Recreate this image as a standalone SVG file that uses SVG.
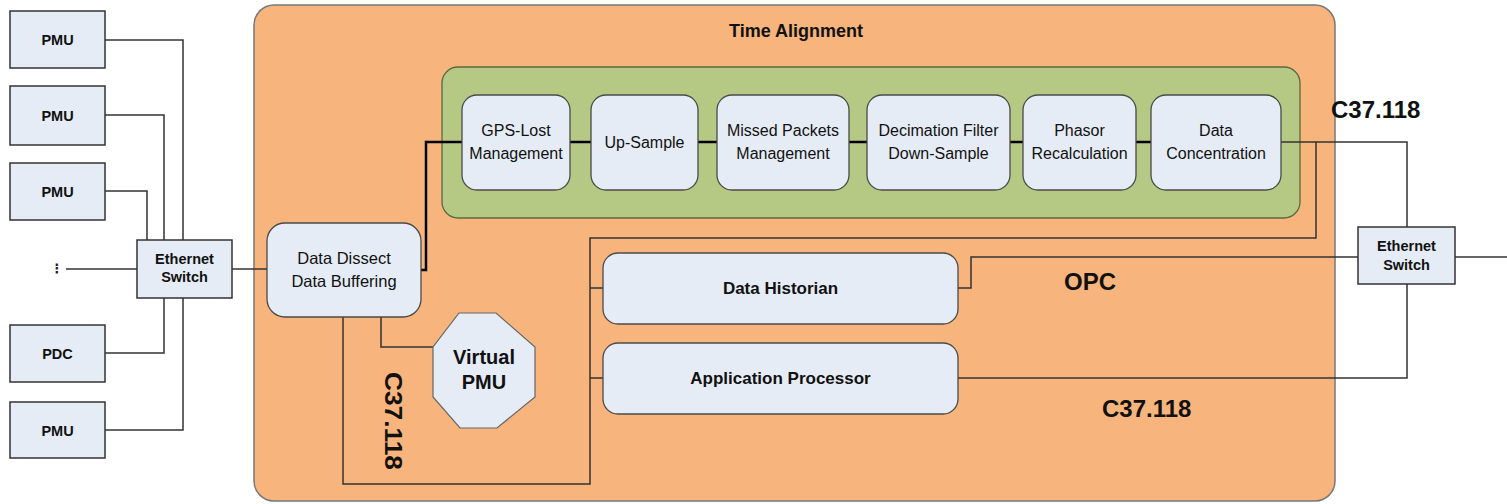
<svg xmlns="http://www.w3.org/2000/svg" width="1507" height="504" viewBox="0 0 1507 504">
  <style>
    .dev { fill: #E6ECF6; stroke: #333333; stroke-width: 1.5; }
    .rbox { fill: #E6ECF6; stroke: #4a4a4a; stroke-width: 1.3; }
    .lbl { font-family: "Liberation Sans", Arial, sans-serif; fill: #111111; text-anchor: middle; }
    .b { font-weight: bold; }
    .wire { fill: none; stroke: #333333; stroke-width: 1.5; }
    .bus { fill: none; stroke: #000000; stroke-width: 2.5; }
    .proto { font-family: "Liberation Sans", Arial, sans-serif; font-weight: bold; font-size: 24px; fill: #111111; }
  </style>

  <rect width="1507" height="504" fill="#ffffff"/>

  <!-- Time Alignment container -->
  <g id="time-alignment">
    <rect x="254" y="5" width="1081" height="496" rx="20" fill="#F7B47C" stroke="#777777" stroke-width="1.5"/>
    <text class="lbl b" x="796" y="37" font-size="18">Time Alignment</text>
  </g>

  <!-- processing pipeline container -->
  <g id="pipeline">
    <rect x="442" y="67" width="858" height="151" rx="16" fill="#B5C985" stroke="#5a6a40" stroke-width="1.3"/>
  </g>

  <!-- connectors -->
  <g id="connectors">
    <!-- field devices to left switch -->
    <polyline class="wire" points="105,40 183,40 183,240"/>
    <polyline class="wire" points="105,115 164,115 164,240"/>
    <polyline class="wire" points="105,191 147,191 147,240"/>
    <polyline class="wire" points="105,353 164,353 164,298"/>
    <polyline class="wire" points="105,430 183,430 183,298"/>
    <line class="wire" x1="66" y1="269" x2="137" y2="269"/>
    <line class="wire" x1="232" y1="269" x2="267" y2="269"/>

    <!-- dissect to pipeline -->
    <polyline class="bus" points="421,270 426,270 426,142 462,142"/>
    <line class="bus" x1="570" y1="142" x2="591" y2="142"/>
    <line class="bus" x1="698" y1="142" x2="717" y2="142"/>
    <line class="bus" x1="849" y1="142" x2="867" y2="142"/>
    <line class="bus" x1="1010" y1="142" x2="1023" y2="142"/>
    <line class="bus" x1="1136" y1="142" x2="1151" y2="142"/>

    <!-- concentrator output -->
    <polyline class="wire" points="1281,142 1407,142 1407,227"/>
    <polyline class="wire" points="1316,142 1316,238 590,238 590,484 343,484 343,317"/>
    <line class="wire" x1="590" y1="288" x2="603" y2="288"/>
    <line class="wire" x1="590" y1="378" x2="603" y2="378"/>

    <!-- dissect to virtual PMU -->
    <polyline class="wire" points="381,317 381,347 433,347"/>

    <!-- services to right switch -->
    <polyline class="wire" points="958,288 971,288 971,257 1358,257"/>
    <polyline class="wire" points="958,378 1407,378 1407,284"/>
    <line class="wire" x1="1455" y1="257" x2="1507" y2="257"/>
  </g>

  <!-- field devices -->
  <g id="pmu-1">
    <rect class="dev" x="10" y="11" width="95" height="57"/>
    <text class="lbl b" x="57.5" y="45" font-size="14.5">PMU</text>
  </g>
  <g id="pmu-2">
    <rect class="dev" x="10" y="86" width="95" height="59"/>
    <text class="lbl b" x="57.5" y="121" font-size="14.5">PMU</text>
  </g>
  <g id="pmu-3">
    <rect class="dev" x="10" y="163" width="95" height="57"/>
    <text class="lbl b" x="57.5" y="197" font-size="14.5">PMU</text>
  </g>
  <g id="more-devices">
    <text x="57" y="273" font-family="DejaVu Sans, sans-serif" font-weight="bold" font-size="13" fill="#222222" text-anchor="middle">⋮</text>
  </g>
  <g id="pdc">
    <rect class="dev" x="10" y="325" width="95" height="57"/>
    <text class="lbl b" x="57.5" y="359" font-size="14.5">PDC</text>
  </g>
  <g id="pmu-4">
    <rect class="dev" x="10" y="402" width="95" height="56"/>
    <text class="lbl b" x="57.5" y="436" font-size="14.5">PMU</text>
  </g>

  <!-- switches -->
  <g id="switch-left">
    <rect class="dev" x="137" y="240" width="95" height="58"/>
    <text class="lbl b" x="184.5" y="264" font-size="14.5">Ethernet</text>
    <text class="lbl b" x="184.5" y="282" font-size="14.5">Switch</text>
  </g>
  <g id="switch-right">
    <rect class="dev" x="1358" y="227" width="97" height="57"/>
    <text class="lbl b" x="1406.5" y="251" font-size="14.5">Ethernet</text>
    <text class="lbl b" x="1406.5" y="270" font-size="14.5">Switch</text>
  </g>

  <!-- inside Time Alignment -->
  <g id="data-dissect">
    <rect class="rbox" x="267" y="223" width="154" height="94" rx="18"/>
    <text class="lbl" x="344" y="264" font-size="16.5">Data Dissect</text>
    <text class="lbl" x="344" y="287" font-size="16.5">Data Buffering</text>
  </g>

  <g id="gps-lost">
    <rect class="rbox" x="462" y="95" width="108" height="95" rx="15"/>
    <text class="lbl" x="516" y="136" font-size="16">GPS-Lost</text>
    <text class="lbl" x="516" y="159" font-size="16">Management</text>
  </g>
  <g id="up-sample">
    <rect class="rbox" x="591" y="95" width="107" height="95" rx="15"/>
    <text class="lbl" x="644.5" y="148" font-size="16">Up-Sample</text>
  </g>
  <g id="missed-packets">
    <rect class="rbox" x="717" y="95" width="132" height="95" rx="15"/>
    <text class="lbl" x="783" y="136" font-size="16">Missed Packets</text>
    <text class="lbl" x="783" y="159" font-size="16">Management</text>
  </g>
  <g id="decimation">
    <rect class="rbox" x="867" y="95" width="143" height="95" rx="15"/>
    <text class="lbl" x="938.5" y="136" font-size="16">Decimation Filter</text>
    <text class="lbl" x="938.5" y="159" font-size="16">Down-Sample</text>
  </g>
  <g id="phasor">
    <rect class="rbox" x="1023" y="95" width="113" height="95" rx="15"/>
    <text class="lbl" x="1079.5" y="136" font-size="16">Phasor</text>
    <text class="lbl" x="1079.5" y="159" font-size="16">Recalculation</text>
  </g>
  <g id="concentration">
    <rect class="rbox" x="1151" y="95" width="130" height="95" rx="15"/>
    <text class="lbl" x="1216" y="136" font-size="16">Data</text>
    <text class="lbl" x="1216" y="159" font-size="16">Concentration</text>
  </g>

  <g id="virtual-pmu">
    <polygon points="459,313 496,313 535,347 535,397 497,428 460,428 433,397 433,347" fill="#E6ECF6" stroke="#666666" stroke-width="1.2"/>
    <text class="lbl b" x="484" y="364" font-size="20">Virtual</text>
    <text class="lbl b" x="484" y="389" font-size="20">PMU</text>
  </g>

  <g id="data-historian">
    <rect class="rbox" x="603" y="253" width="355" height="71" rx="15"/>
    <text class="lbl b" x="780.5" y="294" font-size="17">Data Historian</text>
  </g>
  <g id="application-processor">
    <rect class="rbox" x="603" y="343" width="355" height="71" rx="15"/>
    <text class="lbl b" x="780.5" y="384" font-size="17">Application Processor</text>
  </g>

  <!-- protocol labels -->
  <g id="protocols">
    <text class="proto" x="1331" y="118">C37.118</text>
    <text class="proto" x="1064" y="290">OPC</text>
    <text class="proto" x="1102" y="417">C37.118</text>
    <text class="proto" transform="translate(385,372) rotate(90)" textLength="98" lengthAdjust="spacingAndGlyphs">C37.118</text>
  </g>
</svg>
